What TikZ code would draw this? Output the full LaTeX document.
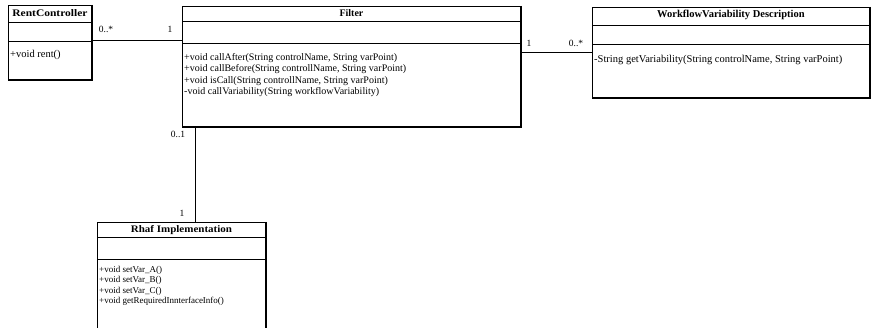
\documentclass[tikz,border=0pt]{standalone}
\usepackage{fontspec}
\setmainfont{Liberation Serif}
\usetikzlibrary{positioning}
\tikzset{
  umlbox/.style={draw=black,line width=0.9pt,anchor=north west,inner sep=0pt},
  umlrule/.style={draw=black,line width=0.6pt},
  umlshade/.style={draw=black,line width=1.8pt},
  umltitle/.style={font=\fontsize{10}{11}\selectfont\bfseries,inner sep=0pt},
  umlops/.style={font=\fontsize{10}{11.5}\selectfont,align=left,anchor=north west,inner sep=0pt},
  assoc/.style={draw=black,line width=0.8pt},
  mult/.style={font=\fontsize{9.5}{10}\selectfont,inner sep=0pt}
}
\begin{document}
\begin{tikzpicture}[x=1pt,y=-1pt]
  \useasboundingbox[fill=white] (0,0) rectangle (872,328);
  % classes
  \node[umlbox,minimum width=83pt,minimum height=74pt] (rc) at (8,5) {};
  \node[umlbox,minimum width=338pt,minimum height=120pt] (filter) at (182,6) {};
  \node[umlbox,minimum width=277pt,minimum height=90pt] (wvd) at (592,7) {};
  \node[umlbox,minimum width=168pt,minimum height=115pt] (rhaf) at (97,222) {};
  % compartments
  \draw[umlrule] (rc.west |- 0,22) -- (rc.east |- 0,22); \draw[umlrule] (rc.west |- 0,41) -- (rc.east |- 0,41);
  \draw[umlrule] (filter.west |- 0,21) -- (filter.east |- 0,21); \draw[umlrule] (filter.west |- 0,43) -- (filter.east |- 0,43);
  \draw[umlrule] (wvd.west |- 0,25) -- (wvd.east |- 0,25); \draw[umlrule] (wvd.west |- 0,44) -- (wvd.east |- 0,44);
  \draw[umlrule] (rhaf.west |- 0,237) -- (rhaf.east |- 0,237); \draw[umlrule] (rhaf.west |- 0,259) -- (rhaf.east |- 0,259);
  \draw[umlshade] (rc.north east) -- (rc.south east) -- (rc.south west);
  \draw[umlshade] (filter.north east) -- (filter.south east) -- (filter.south west);
  \draw[umlshade] (wvd.north east) -- (wvd.south east) -- (wvd.south west);
  \draw[umlshade] (rhaf.north east) -- (rhaf.south east);
  % titles
  \node[umltitle] (rcTitle) at (rc.north |- 0,13) {\scalebox{1.15}[1]{RentController}};
  \node[umltitle] (filterTitle) at (filter.north |- 0,13) {Filter};
  \node[umltitle,font=\fontsize{10.5}{11}\selectfont\bfseries] (wvdTitle) at (wvd.north |- 0,15) {WorkflowVariability Description};
  \node[umltitle] (rhafTitle) at (rhaf.north |- 0,230) {\scalebox{1.1}[1]{Rhaf Implementation}};
  % operations
  \node[umlops,font=\fontsize{10.5}{11.5}\selectfont] (rcOps) at (10,50) {+void rent()};
  \node[umlops] (filterOps) at (184,53) {+void callAfter(String controlName, String varPoint)\\+void callBefore(String controllName, String varPoint)\\+void isCall(String controllName, String varPoint)\\-void callVariability(String workflowVariability)};
  \node[umlops,font=\fontsize{10.5}{11.5}\selectfont] (wvdOps) at (594,55) {-String getVariability(String controlName, String varPoint)};
  \node[umlops,font=\fontsize{9}{10.5}\selectfont] (rhafOps) at (99,266) {+void setVar\_A()\\+void setVar\_B()\\+void setVar\_C()\\+void getRequiredInnterfaceInfo()};
  % associations
  \draw[assoc] (rc.east |- 0,40) -- (filter.west |- 0,40);
  \draw[assoc] (filter.east |- 0,52) -- (wvd.west |- 0,52);
  \draw[assoc] (filter.south -| 195,0) -- (rhaf.north -| 195,0);
  \node[mult] (rcMult) at (106,29) {0..*};
  \node[mult] (filterMultA) at (170,29) {1};
  \node[mult] (filterMultB) at (529,43) {1};
  \node[mult] (wvdMult) at (576,43) {0..*};
  \node[mult] (filterMultC) at (178,134) {0..1};
  \node[mult] (rhafMult) at (182,213) {1};
\end{tikzpicture}
\end{document}
